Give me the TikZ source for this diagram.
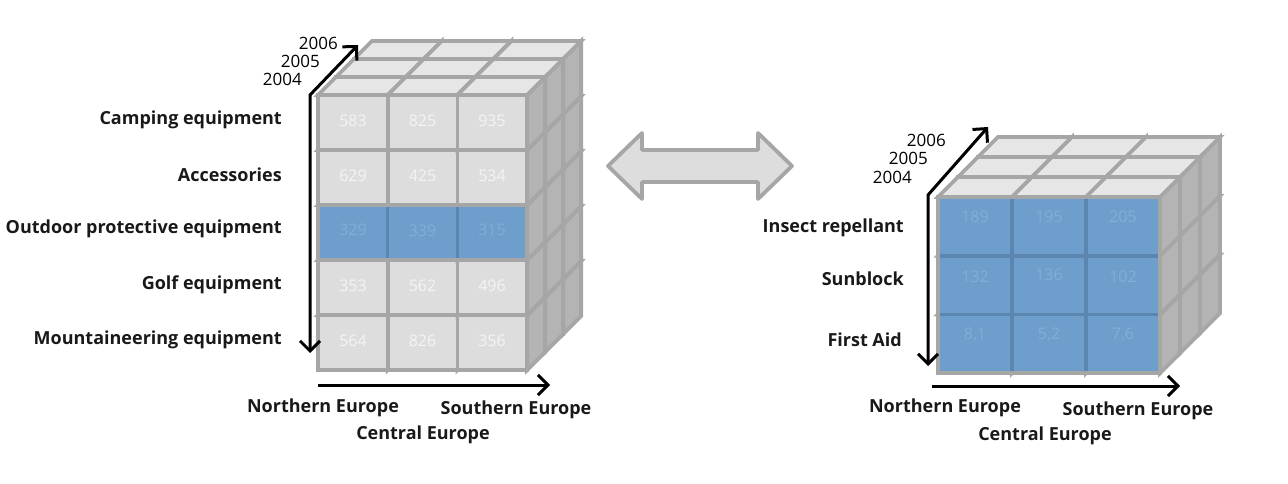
\documentclass[tikz,border=0pt]{standalone}
\usepackage{fontspec}
\setmainfont{Open Sans}
\usetikzlibrary{arrows.meta}
\definecolor{frame}{HTML}{A6A6A6}
\definecolor{cellfill}{HTML}{DDDDDD}
\definecolor{topfill}{HTML}{E6E6E6}
\definecolor{sidefill}{HTML}{B4B4B4}
\definecolor{bluefill}{HTML}{6E9ECB}
\definecolor{bluediv}{HTML}{5A86B0}
\definecolor{bluetext}{HTML}{82AED9}
\definecolor{celltext}{HTML}{F4F4F4}
\tikzset{
  cubeline/.style={draw=frame, line width=3.8},
  axisline/.style={line width=3, black},
  tip/.tip={Straight Barb[length=10pt,width=20pt]},
  rowlabel/.style={anchor=east, font=\fontsize{18}{20}\selectfont\bfseries, text=black!90, inner sep=0},
  yearlabel/.style={anchor=east, font=\fontsize{17}{18}\selectfont, inner sep=0},
  collabel/.style={anchor=center, font=\fontsize{18}{20}\selectfont\bfseries, text=black!90, inner sep=0},
  greynum/.style={font=\fontsize{16}{17}\selectfont, text=celltext, inner sep=0},
  bluenum/.style={font=\fontsize{16}{17}\selectfont, text=bluetext, inner sep=0},
}
\newcommand\cubecells[6]{%
 \foreach \k in {2,1,0}{%
  \foreach \i in {#6,...,0}{%
   \foreach \j in {0,1,2}{%
     \pgfmathsetmacro\ca{#1+\j*#3+\k*#5}%
     \pgfmathsetmacro\cb{#2+\i*#4-\k*#5}%
     \draw[cubeline, fill=sidefill] (\ca+#3,\cb) -- ++(#5,-#5) -- ++(0,#4) -- ++(-#5,#5) -- cycle;
     \draw[cubeline, fill=topfill] (\ca,\cb) -- ++(#5,-#5) -- ++(#3,0) -- ++(-#5,#5) -- cycle;
     \draw[cubeline, fill=cellfill] (\ca,\cb) rectangle ++(#3,#4);
   }}}%
}
\begin{document}
\begin{tikzpicture}[x=1pt,y=-1pt]
\useasboundingbox (0,0) rectangle (1288,484);
% ---------------- left cube
\cubecells{318}{95}{69.7}{55}{18}{4}
\draw[cubeline, fill=bluefill] (318,205) rectangle (527,260);
\draw[bluediv, line width=3] (387.7,207) -- (387.7,258) (457.4,207) -- (457.4,258);
\draw[cubeline] (318,95) rectangle (527,370);
\foreach \r/\va/\vb/\vc in {0/583/825/935,1/629/425/534,3/353/562/496,4/564/826/356}{
  \node[greynum] (L\r a) at (353,{121+\r*55}) {\va};
  \node[greynum] (L\r b) at (422.5,{121+\r*55}) {\vb};
  \node[greynum] (L\r c) at (492,{121+\r*55}) {\vc};
}
\node[bluenum] (L2a) at (353,230) {329};
\node[bluenum] (L2b) at (422.5,231) {339};
\node[bluenum] (L2c) at (492,230) {315};
% labels
\node[rowlabel] (lab1) at (282,120) {Camping equipment};
\node[rowlabel] (lab2) at (282,175) {Accessories};
\node[rowlabel] (lab3) at (282,229) {Outdoor protective equipment};
\node[rowlabel] (lab4) at (282,285) {Golf equipment};
\node[rowlabel] (lab5) at (282,340) {Mountaineering equipment};
\node[yearlabel] (ly6) at (338,43) {2006};
\node[yearlabel] (ly5) at (320,61) {2005};
\node[yearlabel] (ly4) at (302,79) {2004};
\node[collabel] (lc1) at (323,408) {Northern Europe};
\node[collabel] (lc3) at (516,410) {Southern Europe};
\node[collabel] (lc2) at (423,435) {Central Europe};
% axes
\coordinate (LYtip) at (358,45);
\coordinate (Lcorner) at (310,95);
\coordinate (Lbot) at (310,353);
\coordinate (LXs) at (318,385);
\coordinate (LXe) at (550,385);
\draw[axisline, {tip}-{tip}] (LYtip) -- (Lcorner) -- (Lbot);
\draw[axisline, -{tip}] (LXs) -- (LXe);
% ---------------- double arrow
\draw[draw=frame, fill=cellfill, line width=3.8, line join=round]
  (608,166) -- (642,133) -- (642,150) -- (758,150) -- (758,133) -- (792,166)
  -- (758,199) -- (758,182) -- (642,182) -- (642,199) -- cycle;
% ---------------- right cube
\cubecells{938}{197}{74}{58.7}{20}{2}
\draw[cubeline, fill=bluefill] (938,197) rectangle (1160,373);
\draw[bluediv, line width=3.8] (1012,199) -- (1012,371) (1086,199) -- (1086,371)
  (940,255.7) -- (1158,255.7) (940,314.4) -- (1158,314.4);
\draw[cubeline] (938,197) rectangle (1160,373);
\node[bluenum] (R0a) at (975,217) {189};
\node[bluenum] (R0b) at (1049,217) {195};
\node[bluenum] (R0c) at (1123,217) {205};
\node[bluenum] (R1a) at (975,277) {132};
\node[bluenum] (R1b) at (1049,275) {136};
\node[bluenum] (R1c) at (1123,277) {102};
\node[bluenum] (R2a) at (975,335) {8,1};
\node[bluenum] (R2b) at (1049,335) {5,2};
\node[bluenum] (R2c) at (1123,335) {7,6};
\node[rowlabel] (rl1) at (904,228) {Insect repellant};
\node[rowlabel] (rl2) at (904,279) {Sunblock};
\node[rowlabel] (rl3) at (902,340) {First Aid};
\node[yearlabel] (ry6) at (946,140) {2006};
\node[yearlabel] (ry5) at (928,158) {2005};
\node[yearlabel] (ry4) at (912,177) {2004};
\node[collabel] (rc1) at (945,408) {Northern Europe};
\node[collabel] (rc3) at (1138,411) {Southern Europe};
\node[collabel] (rc2) at (1045,436) {Central Europe};
\coordinate (RYtip) at (988,127);
\coordinate (Rcorner) at (928,195);
\coordinate (Rbot) at (928,366);
\coordinate (RXs) at (932,386);
\coordinate (RXe) at (1180,386);
\draw[axisline, {tip}-{tip}] (RYtip) -- (Rcorner) -- (Rbot);
\draw[axisline, -{tip}] (RXs) -- (RXe);
\end{tikzpicture}
\end{document}
